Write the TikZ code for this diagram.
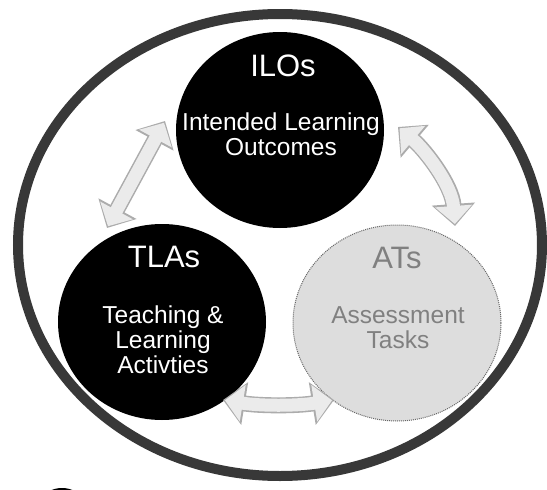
\documentclass[tikz,border=0pt]{standalone}
\usepackage{fontspec}
\setmainfont{Liberation Sans}
\usetikzlibrary{shapes.geometric,arrows.meta}
\begin{document}
\begin{tikzpicture}[x=1pt,y=-1pt,
  bigcirc/.style={ellipse, minimum width=208pt, minimum height=196pt, inner sep=0pt},
  darkcirc/.style={bigcirc, fill=black},
  lightcirc/.style={bigcirc, fill=gray!27, draw=black!60, densely dotted, line width=1pt},
  ringstyle/.style={ellipse, minimum width=524pt, minimum height=462pt, inner sep=0pt, draw=black!78, line width=10pt},
  hdr/.style={font=\fontsize{31}{31}\selectfont, text=white, inner sep=0pt},
  bodytext/.style={font=\fontsize{24.5}{25}\selectfont, text=white, align=center, inner sep=0pt},
  greyhdr/.style={hdr, text=black!50},
  greybody/.style={bodytext, text=black!50},
  arrowout/.style={line width=16pt, draw=gray!65, {Triangle[length=22pt,width=42pt]}-{Triangle[length=22pt,width=42pt]}},
  arrowin/.style={line width=13pt, draw=gray!16, shorten <=2pt, shorten >=2pt, {Triangle[length=18pt,width=36pt]}-{Triangle[length=18pt,width=36pt]}}
]
\useasboundingbox (0,0) rectangle (547,490);
\fill[white] (0,0) rectangle (547,490);

% outer ring
\node[ringstyle] (outer) at (280,245) {};

% circles
\node[darkcirc] (ilo) at (280,130) {};
\node[darkcirc] (tla) at (162,322) {};
\node[lightcirc] (ats) at (397,323) {};

% texts
\node[hdr] (ilohdr) at (283,66) {ILOs};
\node[bodytext] (ilobody) at (281,134) {Intended Learning\\Outcomes};
\node[hdr] (tlahdr) at (164,257) {TLAs};
\node[bodytext] (tlabody) at (163,340) {Teaching \&\\Learning\\Activties};
\node[greyhdr] (atshdr) at (397,258) {ATs};
\node[greybody] (atsbody) at (398,328) {Assessment\\Tasks};

% arrow end points
\coordinate (la) at (107,228);
\coordinate (lb) at (165,121);
\coordinate (ra) at (398,127);
\coordinate (rb) at (455,226);
\coordinate (ba) at (223,400);
\coordinate (bb) at (334,400);

% left arrow
\draw[arrowout] (la) -- (lb);
\draw[arrowin] (la) -- (lb);
% right arrow (curved)
\draw[arrowout] (ra) .. controls (425,150) and (452,185) .. (rb);
\draw[arrowin] (ra) .. controls (425,150) and (452,185) .. (rb);
% bottom arrow
\draw[arrowout] (ba) .. controls (260,406) and (297,406) .. (bb);
\draw[arrowin] (ba) .. controls (260,406) and (297,406) .. (bb);

% small dark blob at bottom-left edge
\begin{scope}
\clip (0,0) rectangle (547,490);
\fill[black] (62,499) ellipse [x radius=18, y radius=11];
\end{scope}
\end{tikzpicture}
\end{document}
